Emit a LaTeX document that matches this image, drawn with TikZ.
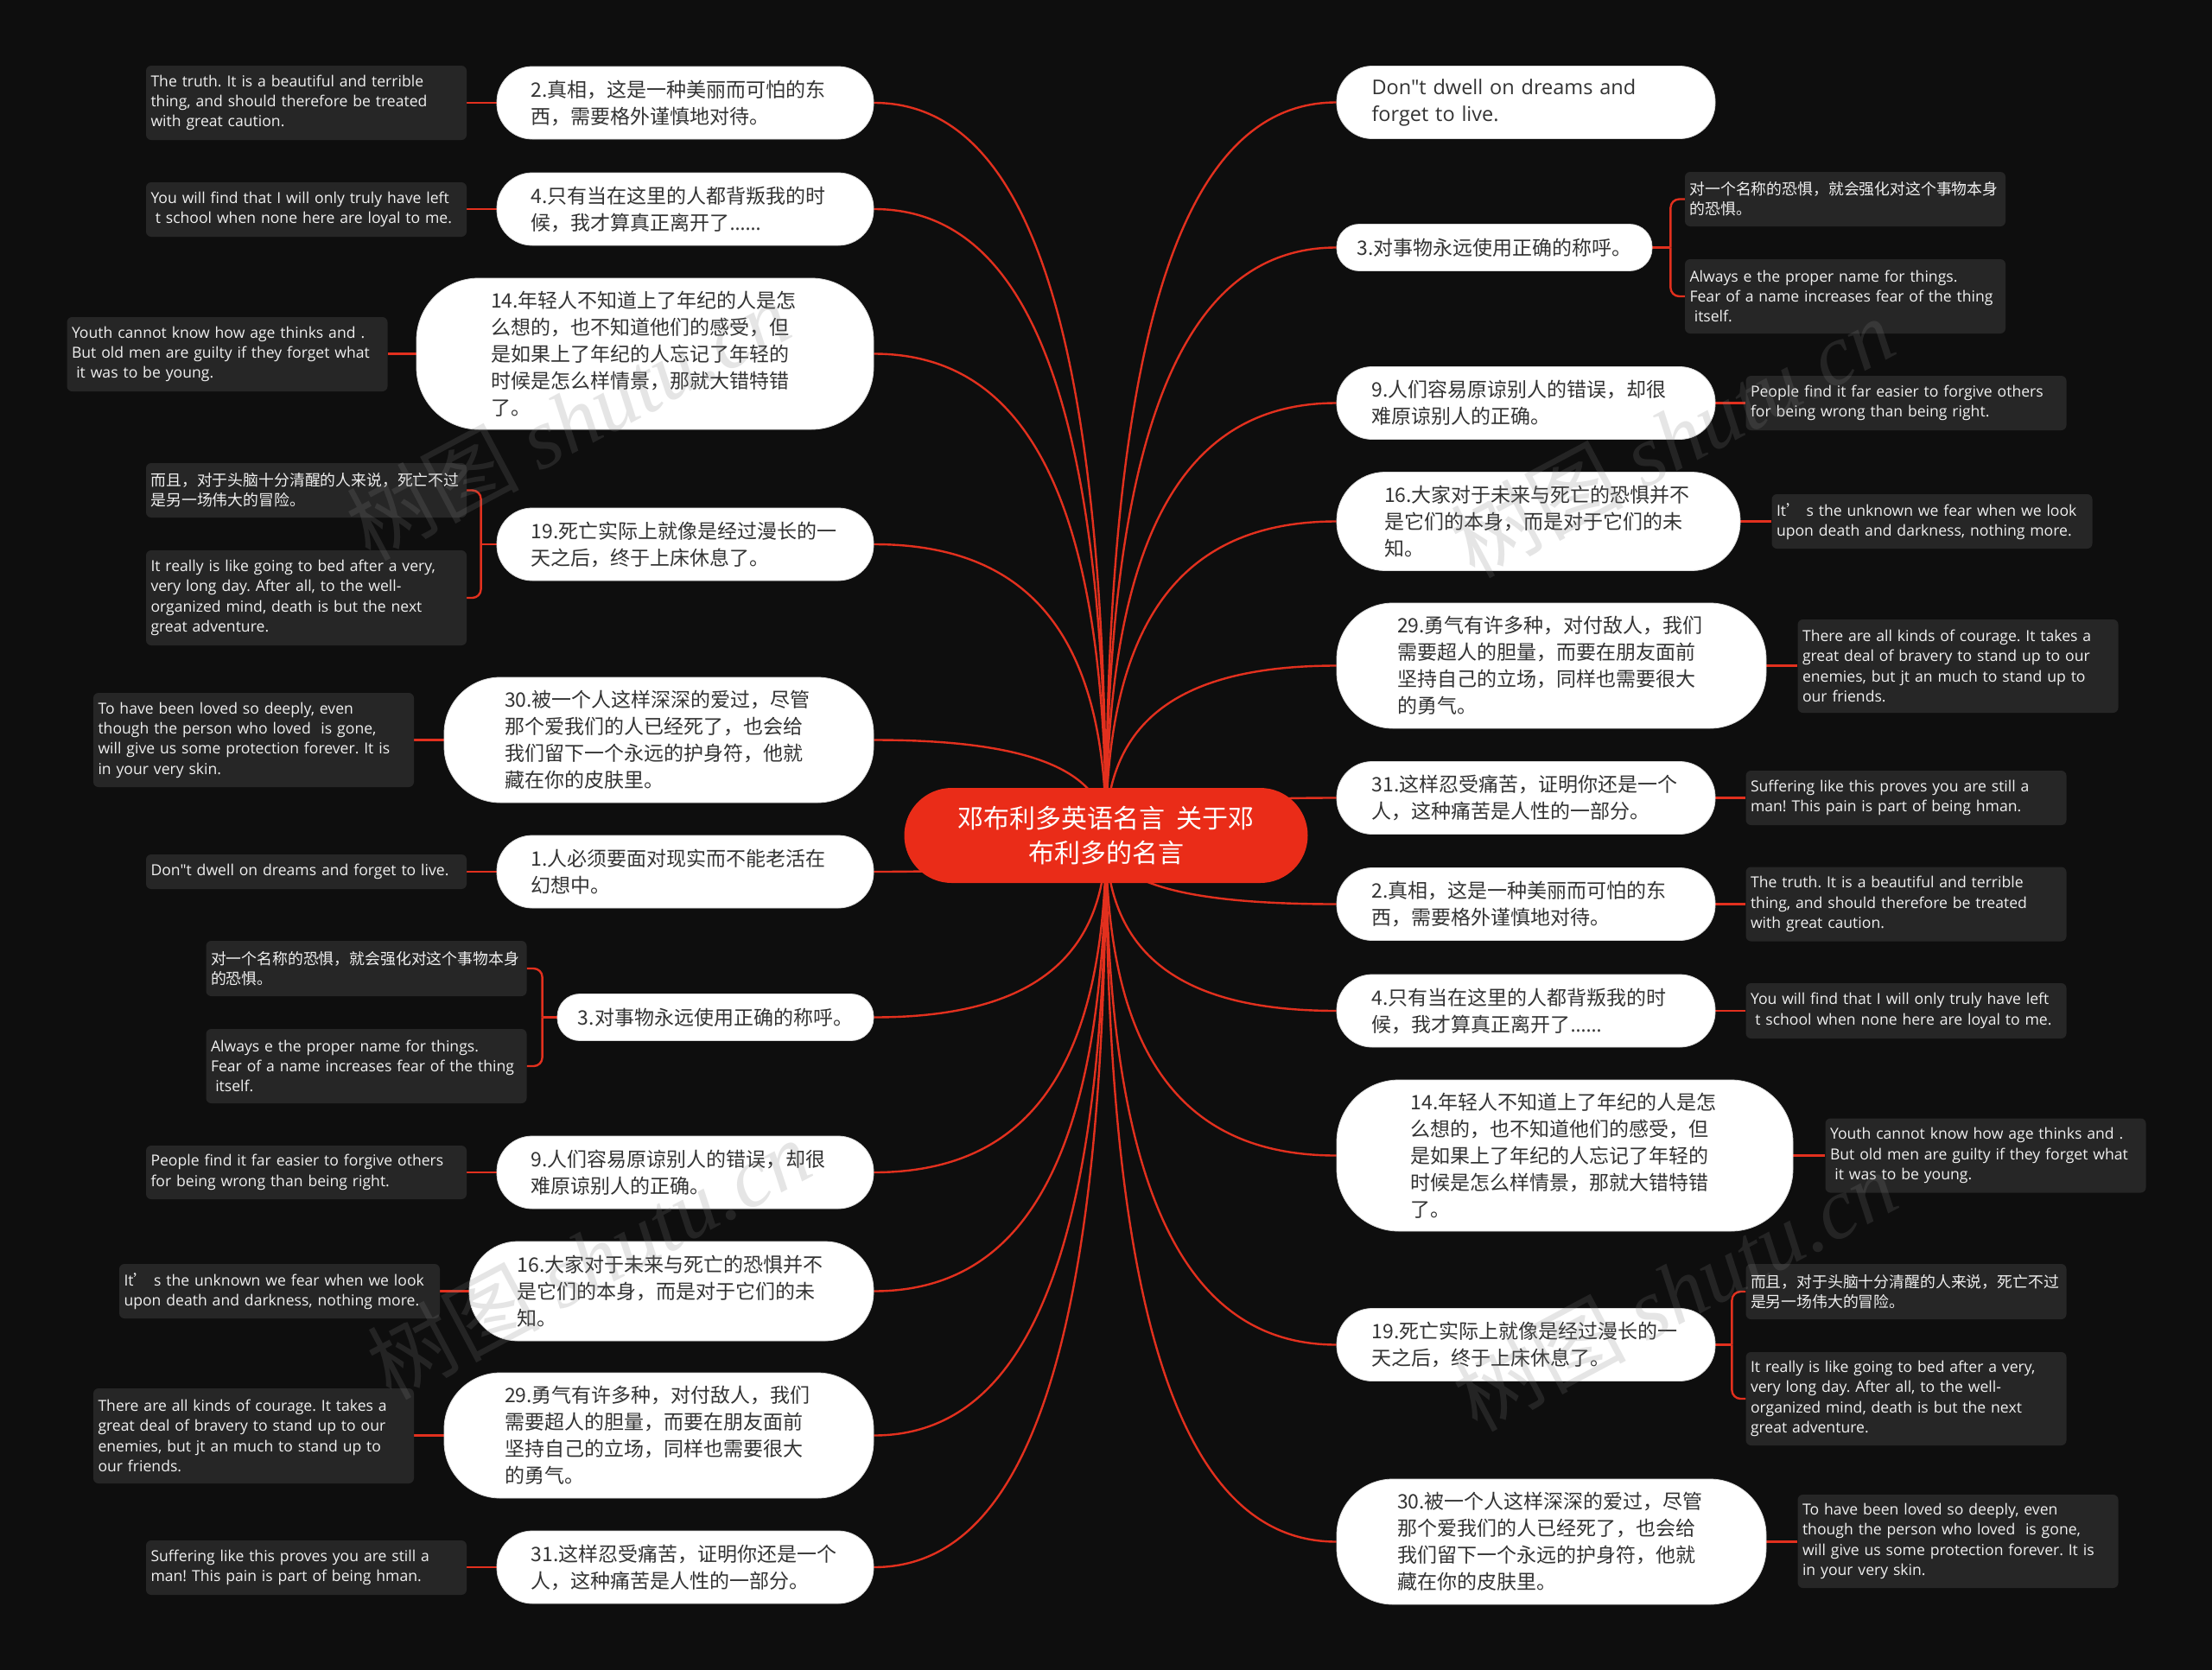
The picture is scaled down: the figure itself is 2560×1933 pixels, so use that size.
\documentclass[tikz,border=0pt]{standalone}
\usepackage{fontspec}
\setmainfont{Noto Sans CJK SC}
\newfontfamily\enfont{Open Sans}
\newfontfamily\cnfont{Noto Sans CJK SC}
\newfontfamily\wmfont{Liberation Serif}
\usetikzlibrary{calc}
\definecolor{bgc}{RGB}{14,14,14}
\definecolor{linkc}{RGB}{226,48,30}
\definecolor{rootc}{RGB}{234,44,24}
\definecolor{darkc}{RGB}{38,38,38}
\definecolor{txtc}{RGB}{51,51,51}
\definecolor{dtxt}{RGB}{240,240,240}
\pgfdeclarelayer{bg}
\pgfdeclarelayer{fg}
\pgfsetlayers{bg,main,fg}
\newcommand\mmcurve[2]{\draw[link] (#1) .. controls ($(#1)!0.75!(#1 |- #2)$) and ($(#2)!0.6!(#2 -| #1)$) .. (#2);}
\frenchspacing
\begin{document}
\begin{tikzpicture}[x=1pt,y=-1pt,
  link/.style={draw=linkc, line width=2.4pt},
  wbase/.style={fill=white, draw=black!15, line width=0.8pt, align=left, text=txtc, inner sep=0pt, font=\fontsize{23}{31}\selectfont},
  wn/.style={wbase, text width=357pt},
  wsize/.style n args={3}{minimum width=#1, minimum height=#2, rounded corners=#3},
  dn/.style={fill=darkc, rounded corners=6pt, text=dtxt, align=left, text width=360pt, inner xsep=5.5pt, inner ysep=0pt},
  den/.style={dn, font=\fontsize{17.6}{23.3}\selectfont\enfont},
  dcn/.style={dn, font=\fontsize{17.85}{23.3}\selectfont},
  wm/.style={text=gray, text opacity=0.2, font=\fontsize{100}{110}\selectfont, rotate=28, inner sep=0pt}
]
\useasboundingbox (0,0) rectangle (2560,1933);

% root
\node[fill=rootc, rounded corners=55pt, minimum width=467, minimum height=110, align=center, text=white, inner sep=0pt, font=\fontsize{30}{40}\selectfont] (root) at (1280,967) {邓布利多英语名言\hspace{0.45em}关于邓\\布利多的名言};

% left white nodes
\node[wn, wsize={436}{84}{41}] (l1) at (793,119) {2.真相，这是一种美丽而可怕的东\\西，需要格外谨慎地对待。};
\node[wn, wsize={436}{84}{41}] (l2) at (793,242) {4.只有当在这里的人都背叛我的时\\候，我才算真正离开了{\enfont ……}};
\node[wn, wsize={529}{175}{72}] (l3) at (746.5,409.5) {14.年轻人不知道上了年纪的人是怎\\么想的，也不知道他们的感受，但\\是如果上了年纪的人忘记了年轻的\\时候是怎么样情景，那就大错特错\\了。};
\node[wn, wsize={436}{84}{41}] (l4) at (793,630) {19.死亡实际上就像是经过漫长的一\\天之后，终于上床休息了。};
\node[wn, wsize={497}{145}{65}] (l5) at (762.5,856.5) {30.被一个人这样深深的爱过，尽管\\那个爱我们的人已经死了，也会给\\我们留下一个永远的护身符，他就\\藏在你的皮肤里。};
\node[wn, wsize={436}{84}{41}] (l6) at (793,1009) {1.人必须要面对现实而不能老活在\\幻想中。};
\node[wbase, wsize={366}{54}{26}] (l7) at (828,1177.5) {3.对事物永远使用正确的称呼。};
\node[wn, wsize={436}{84}{41}] (l8) at (793,1357) {9.人们容易原谅别人的错误，却很\\难原谅别人的正确。};
\node[wn, wsize={468}{115}{56}] (l9) at (777,1494.5) {16.大家对于未来与死亡的恐惧并不\\是它们的本身，而是对于它们的未\\知。};
\node[wn, wsize={497}{145}{65}] (l10) at (762.5,1661.5) {29.勇气有许多种，对付敌人，我们\\需要超人的胆量，而要在朋友面前\\坚持自己的立场，同样也需要很大\\的勇气。};
\node[wn, wsize={436}{84}{41}] (l11) at (793,1814) {31.这样忍受痛苦，证明你还是一个\\人，这种痛苦是人性的一部分。};

% right white nodes
\node[wn, wsize={438}{84}{41}, font=\fontsize{23.5}{31}\selectfont\enfont] (r1) at (1766,118.5) {Don"t dwell on dreams and\\forget to live.};
\node[wbase, wsize={365}{54}{26}] (r2) at (1729.5,286.5) {3.对事物永远使用正确的称呼。};
\node[wn, wsize={438}{84}{41}] (r3) at (1766,466.5) {9.人们容易原谅别人的错误，却很\\难原谅别人的正确。};
\node[wn, wsize={467}{114}{56}] (r4) at (1780.5,603.5) {16.大家对于未来与死亡的恐惧并不\\是它们的本身，而是对于它们的未\\知。};
\node[wn, wsize={497}{145}{65}] (r5) at (1795.5,770.5) {29.勇气有许多种，对付敌人，我们\\需要超人的胆量，而要在朋友面前\\坚持自己的立场，同样也需要很大\\的勇气。};
\node[wn, wsize={438}{84}{41}] (r6) at (1766,923.5) {31.这样忍受痛苦，证明你还是一个\\人，这种痛苦是人性的一部分。};
\node[wn, wsize={438}{84}{41}] (r7) at (1766,1046.5) {2.真相，这是一种美丽而可怕的东\\西，需要格外谨慎地对待。};
\node[wn, wsize={438}{84}{41}] (r8) at (1766,1170) {4.只有当在这里的人都背叛我的时\\候，我才算真正离开了{\enfont ……}};
\node[wn, wsize={528}{175}{72}] (r9) at (1811,1337.5) {14.年轻人不知道上了年纪的人是怎\\么想的，也不知道他们的感受，但\\是如果上了年纪的人忘记了年轻的\\时候是怎么样情景，那就大错特错\\了。};
\node[wn, wsize={438}{84}{41}] (r10) at (1766,1556.5) {19.死亡实际上就像是经过漫长的一\\天之后，终于上床休息了。};
\node[wn, wsize={497}{145}{65}] (r11) at (1795.5,1784.5) {30.被一个人这样深深的爱过，尽管\\那个爱我们的人已经死了，也会给\\我们留下一个永远的护身符，他就\\藏在你的皮肤里。};

% left dark nodes
\node[den, minimum height=86] (ld1) at (354.5,119) {The truth. It is a beautiful and terrible\\thing, and should therefore be treated\\with great caution.};
\node[den, minimum height=63] (ld2) at (354.5,242.5) {You will find that I will only truly have left\\\hspace*{0.3em}t school when none here are loyal to me.};
\node[den, minimum height=86] (ld3) at (263,410) {Youth cannot know how age thinks and .\\But old men are guilty if they forget what\\\hspace*{0.3em}it was to be young.};
\node[dcn, minimum height=63] (ld4a) at (354.5,567.5) {而且，对于头脑十分清醒的人来说，死亡不过\\是另一场伟大的冒险。};
\node[den, minimum height=110] (ld4b) at (354.5,692) {It really is like going to bed after a very,\\very long day. After all, to the well-\\organized mind, death is but the next\\great adventure.};
\node[den, minimum height=109] (ld5) at (293.5,856.5) {To have been loved so deeply, even\\though the person who loved\ \ is gone,\\will give us some protection forever. It is\\in your very skin.};
\node[den, minimum height=40] (ld6) at (354.5,1009) {Don"t dwell on dreams and forget to live.};
\node[dcn, minimum height=64] (ld7a) at (424,1121) {对一个名称的恐惧，就会强化对这个事物本身\\的恐惧。};
\node[den, minimum height=86] (ld7b) at (424,1234) {Always e the proper name for things.\\Fear of a name increases fear of the thing\\\hspace*{0.3em}itself.};
\node[den, minimum height=62] (ld8) at (354.5,1357) {People find it far easier to forgive others\\for being wrong than being right.};
\node[den, minimum height=63] (ld9) at (323.5,1494.5) {It{\cnfont ’} s the unknown we fear when we look\\upon death and darkness, nothing more.};
\node[den, minimum height=110] (ld10) at (293.5,1662) {There are all kinds of courage. It takes a\\great deal of bravery to stand up to our\\enemies, but jt an much to stand up to\\our friends.};
\node[den, minimum height=63] (ld11) at (354.5,1814.5) {Suffering like this proves you are still a\\man! This pain is part of being hman.};

% right dark nodes
\node[dcn, minimum height=63] (rd2a) at (2135.5,230.5) {对一个名称的恐惧，就会强化对这个事物本身\\的恐惧。};
\node[den, minimum height=86] (rd2b) at (2135.5,343) {Always e the proper name for things.\\Fear of a name increases fear of the thing\\\hspace*{0.3em}itself.};
\node[den, minimum height=63] (rd3) at (2206,466.5) {People find it far easier to forgive others\\for being wrong than being right.};
\node[den, minimum height=63] (rd4) at (2236,603.5) {It{\cnfont ’} s the unknown we fear when we look\\upon death and darkness, nothing more.};
\node[den, minimum height=108] (rd5) at (2266,771) {There are all kinds of courage. It takes a\\great deal of bravery to stand up to our\\enemies, but jt an much to stand up to\\our friends.};
\node[den, minimum height=63] (rd6) at (2206,923.5) {Suffering like this proves you are still a\\man! This pain is part of being hman.};
\node[den, minimum height=86] (rd7) at (2206,1046.5) {The truth. It is a beautiful and terrible\\thing, and should therefore be treated\\with great caution.};
\node[den, minimum height=64] (rd8) at (2206,1170) {You will find that I will only truly have left\\\hspace*{0.3em}t school when none here are loyal to me.};
\node[den, minimum height=86] (rd9) at (2298,1337.5) {Youth cannot know how age thinks and .\\But old men are guilty if they forget what\\\hspace*{0.3em}it was to be young.};
\node[dcn, minimum height=64] (rd10a) at (2206,1495) {而且，对于头脑十分清醒的人来说，死亡不过\\是另一场伟大的冒险。};
\node[den, minimum height=108] (rd10b) at (2206,1619) {It really is like going to bed after a very,\\very long day. After all, to the well-\\organized mind, death is but the next\\great adventure.};
\node[den, minimum height=108] (rd11) at (2266,1784) {To have been loved so deeply, even\\though the person who loved\ \ is gone,\\will give us some protection forever. It is\\in your very skin.};

% bracket points
\coordinate (b4) at ($(l4.west)+(-18,0)$);
\coordinate (b7) at ($(l7.west)+(-17,0)$);
\coordinate (br2) at ($(r2.east)+(21,0)$);
\coordinate (br10) at ($(r10.east)+(19,0)$);

\begin{pgfonlayer}{bg}
  \fill[bgc] (0,0) rectangle (2560,1933);
  % root to main topics
  \foreach \n in {l1,l2,l3,l4,l5,l6,l7,l8,l9,l10,l11} {\mmcurve{root.center}{\n.east}}
  \foreach \n in {r1,r2,r3,r4,r5,r6,r7,r8,r9,r10,r11} {\mmcurve{root.center}{\n.west}}
  % left leaves
  \draw[link] (l1.west) -- (l1.west -| ld1.east);
  \draw[link] (l2.west) -- (l2.west -| ld2.east);
  \draw[link] (l3.west) -- (l3.west -| ld3.east);
  \draw[link] (l4.west) -- (b4);
  \draw[link, rounded corners=10pt] (b4) |- (ld4a.east);
  \draw[link, rounded corners=10pt] (b4) |- (ld4b.east);
  \draw[link] (l5.west) -- (l5.west -| ld5.east);
  \draw[link] (l6.west) -- (l6.west -| ld6.east);
  \draw[link] (l7.west) -- (b7);
  \draw[link, rounded corners=10pt] (b7) |- (ld7a.east);
  \draw[link, rounded corners=10pt] (b7) |- (ld7b.east);
  \draw[link] (l8.west) -- (l8.west -| ld8.east);
  \draw[link] (l9.west) -- (l9.west -| ld9.east);
  \draw[link] (l10.west) -- (l10.west -| ld10.east);
  \draw[link] (l11.west) -- (l11.west -| ld11.east);
  % right leaves
  \draw[link] (r2.east) -- (br2);
  \draw[link, rounded corners=10pt] (br2) |- (rd2a.west);
  \draw[link, rounded corners=10pt] (br2) |- (rd2b.west);
  \draw[link] (r3.east) -- (r3.east -| rd3.west);
  \draw[link] (r4.east) -- (r4.east -| rd4.west);
  \draw[link] (r5.east) -- (r5.east -| rd5.west);
  \draw[link] (r6.east) -- (r6.east -| rd6.west);
  \draw[link] (r7.east) -- (r7.east -| rd7.west);
  \draw[link] (r8.east) -- (r8.east -| rd8.west);
  \draw[link] (r9.east) -- (r9.east -| rd9.west);
  \draw[link] (r10.east) -- (br10);
  \draw[link, rounded corners=10pt] (br10) |- (rd10a.west);
  \draw[link, rounded corners=10pt] (br10) |- (rd10b.west);
  \draw[link] (r11.east) -- (r11.east -| rd11.west);
\end{pgfonlayer}

\begin{pgfonlayer}{fg}
  \node[wm] (wm1) at (657,486) {树图 {\wmfont\itshape shutu.cn}};
  \node[wm] (wm2) at (1935,506) {树图 {\wmfont\itshape shutu.cn}};
  \node[wm] (wm3) at (681,1457) {树图 {\wmfont\itshape shutu.cn}};
  \node[wm] (wm4) at (1938,1494) {树图 {\wmfont\itshape shutu.cn}};
\end{pgfonlayer}
\end{tikzpicture}
\end{document}
